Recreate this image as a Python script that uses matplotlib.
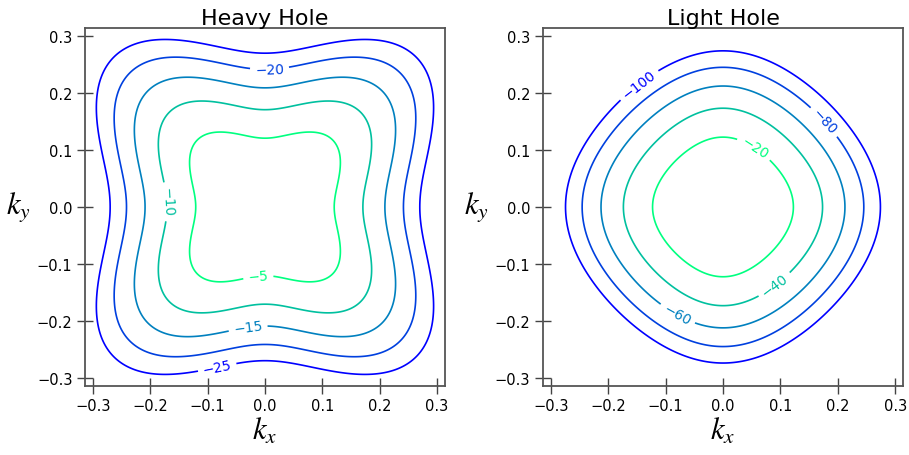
#!/usr/bin/env python3
import numpy as np
import matplotlib
matplotlib.use("Agg")
import matplotlib.pyplot as plt

# Luttinger parameters (GaAs) and energy scale
GAMMA1 = 6.98
GAMMA2 = 2.06
GAMMA3 = 2.93
E_SCALE = 119.7

K_MAX = np.pi / 10
N_GRID = 401

HH_LEVELS = [-25, -20, -15, -10, -5]
LH_LEVELS = [-100, -80, -60, -40, -20]

HH_LABEL_POS = [(-0.084, -0.279), (0.008, 0.242), (-0.030, -0.209),
                (-0.173, 0.009), (-0.012, -0.119)]
LH_LABEL_POS = [(-0.149, 0.218), (0.178, 0.151), (-0.079, -0.188),
                (0.090, -0.137), (0.056, 0.105)]

TICKS = [-0.3, -0.2, -0.1, 0.0, 0.1, 0.2, 0.3]


def bands(kx, ky):
    k2 = kx**2 + ky**2
    root = np.sqrt(4 * GAMMA2**2 * k2**2 + 12 * (GAMMA3**2 - GAMMA2**2) * kx**2 * ky**2)
    e_hh = -E_SCALE * (GAMMA1 * k2 - root)
    e_lh = -E_SCALE * (GAMMA1 * k2 + root)
    return e_hh, e_lh


def style_axes(ax):
    ax.set_xlim(-K_MAX, K_MAX)
    ax.set_ylim(-K_MAX, K_MAX)
    ax.set_xticks(TICKS)
    ax.set_yticks(TICKS)
    ax.tick_params(direction="inout", length=11, width=1.0, labelsize=10.5,
                   color="#444444")
    for sp in ax.spines.values():
        sp.set_color("#555555")
        sp.set_linewidth(1.3)
    ax.set_xlabel("$k_x$", fontsize=22, labelpad=1)
    ax.set_ylabel("$k_y$", fontsize=22, rotation=0, labelpad=13, va="center")


def main():
    plt.rcParams["mathtext.fontset"] = "stix"

    k = np.linspace(-K_MAX, K_MAX, N_GRID)
    KX, KY = np.meshgrid(k, k)
    e_hh, e_lh = bands(KX, KY)

    fig = plt.figure(figsize=(9.09, 4.56), dpi=100)
    ax1 = fig.add_axes([0.0935, 0.152, 0.396, 0.784])
    ax2 = fig.add_axes([0.597, 0.152, 0.3967, 0.784])

    cs1 = ax1.contour(KX, KY, e_hh, levels=HH_LEVELS, cmap="winter", linewidths=1.2)
    ax1.clabel(cs1, fontsize=10, manual=HH_LABEL_POS)
    ax1.set_title("Heavy Hole", fontsize=16, pad=3)
    style_axes(ax1)

    cs2 = ax2.contour(KX, KY, e_lh, levels=LH_LEVELS, cmap="winter", linewidths=1.2)
    ax2.clabel(cs2, fontsize=10, manual=LH_LABEL_POS)
    ax2.set_title("Light Hole", fontsize=16, pad=3)
    style_axes(ax2)

    fig.savefig("out.png", dpi=100)


if __name__ == "__main__":
    main()
